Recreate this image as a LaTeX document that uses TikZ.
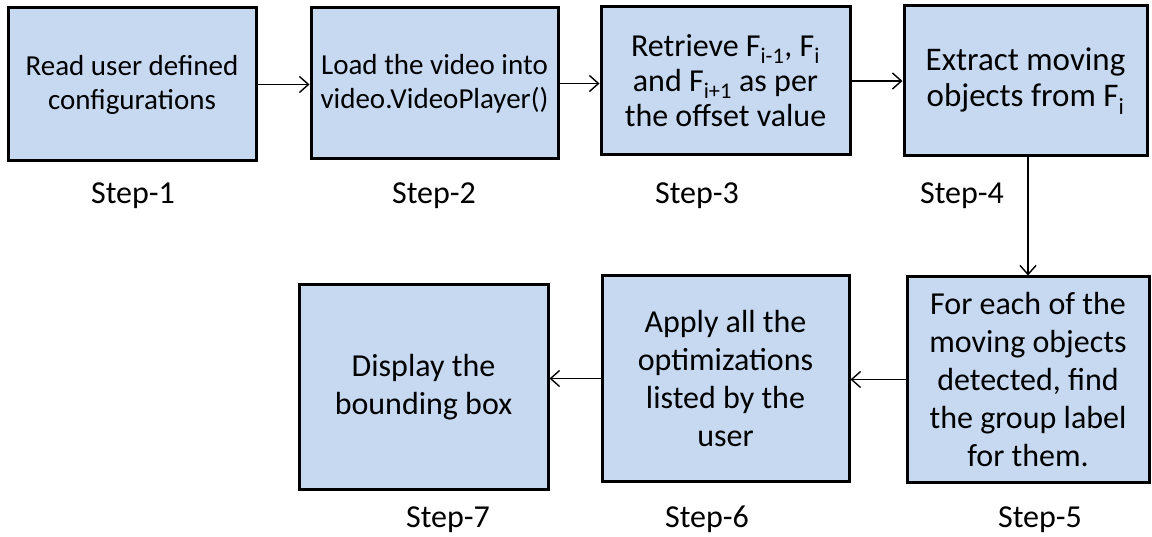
\documentclass[tikz,border=0pt]{standalone}
\usepackage{fontspec}
\setmainfont{Carlito}
\usetikzlibrary{arrows.meta, positioning}
\definecolor{BoxBlue}{RGB}{198,217,241}

\begin{document}
\begin{tikzpicture}[
          x=1pt, y=-1pt,
          stepbox/.style={rectangle, draw=black, fill=BoxBlue, line width=3pt, align=center, inner sep=2pt, font=\fontsize{32}{38}\selectfont},
          toprow/.style={stepbox, font=\fontsize{29}{34}\selectfont},
          steplabel/.style={font=\fontsize{32}{38}\selectfont, inner sep=0pt},
          arrow/.style={-{Straight Barb[length=9pt, width=16pt]}, line width=1.4pt, black}
        ]
          \useasboundingbox (0,0) rectangle (1152,537);

          % top row
          \node (s1) [toprow, minimum width=248pt, minimum height=153pt] at (132,84.5) {Read user defined\\configurations};
          \node (s2) [toprow, minimum width=247pt, minimum height=151pt] at (434.5,83.5) {Load the video into\\video.VideoPlayer()};
          \node (s3) [toprow, font=\fontsize{32}{35}\selectfont, minimum width=249pt, minimum height=148pt] at (725.5,81) {Retrieve F\textsubscript{i-1}, F\textsubscript{i}\\and F\textsubscript{i+1} as per\\the offset value};
          \node (s4) [toprow, font=\fontsize{33}{36}\selectfont, minimum width=243pt, minimum height=150pt] at (1025.5,81) {Extract moving\\objects from F\textsubscript{i}};

          % bottom row
          \node (s5) [stepbox, minimum width=242pt, minimum height=205pt] at (1028,379.5) {For each of the\\moving objects\\detected, find\\the group label\\for them.};
          \node (s6) [stepbox, minimum width=247pt, minimum height=205pt] at (725.5,378.5) {Apply all the\\optimizations\\listed by the\\user};
          \node (s7) [stepbox, minimum width=249pt, minimum height=204pt] at (423.5,387) {Display the\\bounding box};

          % step names
          \node (l1) [steplabel] at (133,196) {Step-1};
          \node (l2) [steplabel] at (434,196) {Step-2};
          \node (l3) [steplabel] at (697,196) {Step-3};
          \node (l4) [steplabel] at (962,196) {Step-4};
          \node (l5) [steplabel] at (1040,520) {Step-5};
          \node (l6) [steplabel] at (707,519) {Step-6};
          \node (l7) [steplabel] at (448,520) {Step-7};

          \draw [arrow] (s1.east) -- (s1.east -| s2.west);
          \draw [arrow] (s2.east) -- (s2.east -| s3.west);
          \draw [arrow] (s3.east) -- (s3.east -| s4.west);
          \draw [arrow] (s5.north |- s4.south) -- (s5.north);
          \draw [arrow] (s5.west) -- (s5.west -| s6.east);
          \draw [arrow] (s6.west) -- (s6.west -| s7.east);
        \end{tikzpicture}
\end{document}
